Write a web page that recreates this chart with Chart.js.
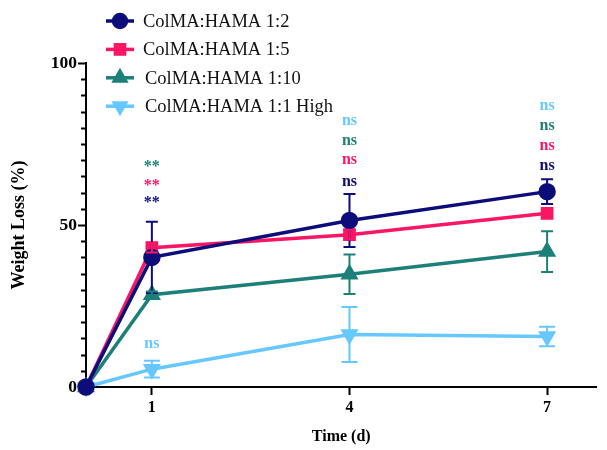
<!DOCTYPE html>
<html>
<head>
<meta charset="utf-8">
<script src="https://cdn.jsdelivr.net/npm/chart.js@4.4.0/dist/chart.umd.min.js"></script>
<style>
  html, body { margin: 0; padding: 0; background: #fff; }
  #wrap { width: 607px; height: 450px; }
</style>
</head>
<body>
<div id="wrap"><canvas id="LossChart"></canvas></div>
<script>
// data
const days = [0, 1, 4, 7];
const xTicks = [1, 4, 7];
const yLabels = [0, 50, 100];

const seriesNames = ["ColMA:HAMA 1:2", "ColMA:HAMA 1:5", "ColMA:HAMA 1:10", "ColMA:HAMA 1:1 High"];
const mean12 = [0, 40, 51.4, 60.3];
const sd12 = [0, 11, 8.2, 3.8];
const mean15 = [0, 43, 47, 53.6];
const sd15 = [0, 1.5, 1.5, 1];
const mean110 = [0, 28.5, 34.8, 41.8];
const sd110 = [0, 1, 6.1, 6.3];
const mean11h = [0, 5.5, 16.2, 15.6];
const sd11h = [0, 2.6, 8.5, 3];

// significance marks: day, height (%), text, series index
const sigDay = [1, 1, 1, 1, 4, 4, 4, 4, 7, 7, 7, 7];
const sigY = [67.8, 62.2, 56.7, 13.3, 82, 75.9, 70, 63.2, 86.7, 80.5, 74.3, 68.4];
const sigText = ["**", "**", "**", "ns", "ns", "ns", "ns", "ns", "ns", "ns", "ns", "ns"];
const sigSeries = [2, 1, 0, 3, 3, 2, 1, 0, 3, 2, 1, 0];

const colors = ["rgb(12,12,122)", "rgb(250,22,100)", "rgb(28,128,120)", "rgb(102,200,255)"];
const shapes = ["circle", "rect", "triangle", "triangle"];
const rotations = [0, 0, 0, 180];
const means = [mean12, mean15, mean110, mean11h];
const sds = [sd12, sd15, sd110, sd11h];
const capHalf = [6, 6, 6, 8];

const serif = "'Liberation Serif', 'Times New Roman', serif";

const datasets = seriesNames.map((name, i) => ({
  label: name,
  data: days.map((d, j) => ({ x: d, y: means[i][j] })),
  borderColor: colors[i],
  backgroundColor: colors[i],
  borderWidth: 3.5,
  pointStyle: shapes[i],
  pointRotation: rotations[i],
  pointRadius: i === 1 ? 6.5 : 7,
  pointHoverRadius: 7,
  clip: false,
  errs: sds[i],
}));

//Error bars, minor ticks, marks and legend
const extras = {
  id: "extras",
  afterDatasetsDraw(chart) {
    const ctx = chart.ctx;
    const xs = chart.scales.x;
    const ys = chart.scales.y;
    ctx.save();
    // error bars
    chart.data.datasets.forEach((ds, i) => {
      ctx.strokeStyle = ds.borderColor;
      ctx.lineWidth = 2;
      ds.data.forEach((p, j) => {
        const e = ds.errs[j];
        if (!e) return;
        const px = xs.getPixelForValue(p.x);
        const top = ys.getPixelForValue(p.y + e);
        const bot = ys.getPixelForValue(p.y - e);
        ctx.beginPath();
        ctx.moveTo(px, top); ctx.lineTo(px, bot);
        ctx.moveTo(px - capHalf[i], top); ctx.lineTo(px + capHalf[i], top);
        ctx.moveTo(px - capHalf[i], bot); ctx.lineTo(px + capHalf[i], bot);
        ctx.stroke();
      });
    });
    ctx.restore();
  },
  afterDraw(chart) {
    const ctx = chart.ctx;
    const xs = chart.scales.x;
    const ys = chart.scales.y;
    ctx.save();
    // minor y ticks
    ctx.strokeStyle = "#000";
    ctx.lineWidth = 2;
    for (let v = 5; v < 100; v += 5) {
      if (v % 50 === 0) continue;
      const py = Math.round(ys.getPixelForValue(v)) + 0.5;
      ctx.beginPath();
      ctx.moveTo(xs.left - 5, py); ctx.lineTo(xs.left, py);
      ctx.stroke();
    }
    // significance marks
    ctx.font = "bold 16px " + serif;
    ctx.textAlign = "center";
    ctx.textBaseline = "middle";
    sigText.forEach((t, k) => {
      ctx.fillStyle = colors[sigSeries[k]];
      ctx.fillText(t, xs.getPixelForValue(sigDay[k]), ys.getPixelForValue(sigY[k]));
    });
    // legend
    ctx.font = "18.5px " + serif;
    ctx.textAlign = "left";
    chart.data.datasets.forEach((ds, i) => {
      const cy = 21 + i * 28.4;
      const cx = 120;
      ctx.strokeStyle = ds.borderColor;
      ctx.fillStyle = ds.borderColor;
      ctx.lineWidth = 3.5;
      ctx.beginPath();
      ctx.moveTo(106, cy); ctx.lineTo(134, cy);
      ctx.stroke();
      Chart.helpers.drawPoint(ctx, {
        pointStyle: ds.pointStyle, rotation: ds.pointRotation, radius: 6.5, borderWidth: 1
      }, cx, cy);
      ctx.fillStyle = "#111";
      ctx.fillText(ds.label, i < 2 ? 143 : 145, cy + 1);
    });
    ctx.restore();
  }
};

const ctxLoss = document.getElementById("LossChart").getContext("2d");
new Chart(ctxLoss, {
  type: "line",
  data: { datasets: datasets },
  options: {
    responsive: true,
    maintainAspectRatio: false,
    animation: false,
    events: [],
    layout: { padding: { top: 63, right: 0, left: 0, bottom: 0 } },
    plugins: { legend: { display: false }, tooltip: { enabled: false } },
    scales: {
      x: {
        type: "linear",
        min: 0,
        max: 7.75,
        afterBuildTicks: (s) => { s.ticks = xTicks.map((v) => ({ value: v })); },
        afterFit: (s) => { s.height = 63; },
        border: { display: true, color: "#000", width: 2 },
        grid: { drawOnChartArea: false, drawTicks: true, tickLength: 8, tickColor: "#000", tickWidth: 2 },
        ticks: { color: "#000", font: { family: serif, size: 16, weight: "bold" }, padding: 3, maxRotation: 0 },
        title: { display: true, text: "Time (d)", color: "#000", font: { family: serif, size: 16, weight: "bold" }, padding: { top: 15 } },
      },
      y: {
        min: 0,
        max: 100,
        afterBuildTicks: (s) => { s.ticks = yLabels.map((v) => ({ value: v })); },
        afterFit: (s) => { s.width = 86; },
        border: { display: true, color: "#000", width: 2 },
        grid: { drawOnChartArea: false, drawTicks: true, tickLength: 8, tickColor: "#000", tickWidth: 2 },
        ticks: { color: "#000", font: { family: serif, size: 17.5, weight: "bold" }, padding: 1 },
        title: { display: true, text: "Weight Loss (%)", color: "#000", font: { family: serif, size: 18, weight: "bold" }, padding: { top: 9, bottom: 0 } },
      },
    },
  },
  plugins: [extras],
});
</script>
</body>
</html>
